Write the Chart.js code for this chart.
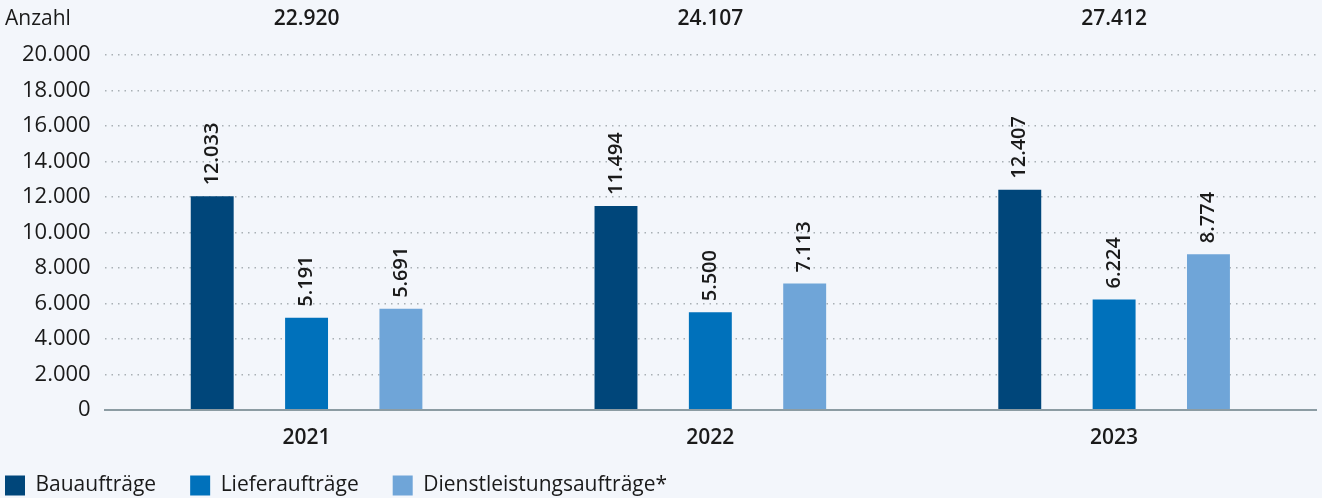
<!DOCTYPE html>
<html>
<head>
<meta charset="utf-8">
<script src="https://cdn.jsdelivr.net/npm/chart.js@4"></script>
<style>
  body { margin: 0; background: #f3f6fb; }
  #wrap { width: 1322px; height: 498px; position: relative; }
</style>
</head>
<body>
<div id="wrap"><canvas id="chart"></canvas></div>
<script>
'use strict';

// data
const years = ['2021', '2022', '2023'];
const bau = [12033, 11494, 12407];
const liefer = [5191, 5500, 6224];
const dienst = [5691, 7113, 8774];
const totals = [22920, 24107, 27412];
const seriesNames = ['Bauaufträge', 'Lieferaufträge', 'Dienstleistungsaufträge*'];
const yTicks = [0, 2000, 4000, 6000, 8000, 10000, 12000, 14000, 16000, 18000, 20000];

const colors = ['#00467a', '#0071bb', '#6fa5d8'];
const fontFamily = '"Open Sans", "Noto Sans", sans-serif';
const fs = 21;
const legendPad = 34;

function fmt(n) {
  return String(n).replace(/\B(?=(\d{3})+(?!\d))/g, '.');
}

// labels on the bars and totals on top
const labelPlugin = {
  id: 'labels',
  afterLayout(chart) {
    // pull the legend to the left edge and up a bit
    chart.legend.left = 5 - legendPad;
    chart.legend.top -= 18;
  },
  afterDatasetsDraw(chart) {
    const ctx = chart.ctx;
    ctx.save();
    ctx.fillStyle = '#1a1a1a';
    ctx.font = '600 20px ' + fontFamily;
    chart.data.datasets.forEach((ds, i) => {
      const meta = chart.getDatasetMeta(i);
      meta.data.forEach((bar, j) => {
        ctx.save();
        ctx.translate(bar.x, bar.y - 11);
        ctx.rotate(-Math.PI / 2);
        ctx.textAlign = 'left';
        ctx.textBaseline = 'middle';
        ctx.fillText(fmt(ds.data[j]), 0, 0);
        ctx.restore();
      });
    });
    // totals
    ctx.font = '600 ' + fs + 'px ' + fontFamily;
    const xScale = chart.scales.x;
    ctx.textAlign = 'center';
    ctx.textBaseline = 'middle';
    totals.forEach((t, j) => {
      ctx.fillText(fmt(t), xScale.getPixelForValue(j), 19);
    });
    // axis title
    ctx.font = fs + 'px ' + fontFamily;
    ctx.textAlign = 'left';
    ctx.fillText('Anzahl', 5, 19);
    ctx.restore();
  }
};

const ctx = document.getElementById('chart').getContext('2d');
const chart = new Chart(ctx, {
  type: 'bar',
  data: {
    labels: years,
    datasets: [
      { label: seriesNames[0], data: bau, backgroundColor: colors[0] },
      { label: seriesNames[1], data: liefer, backgroundColor: colors[1] },
      { label: seriesNames[2], data: dienst, backgroundColor: colors[2] }
    ]
  },
  options: {
    responsive: true,
    maintainAspectRatio: false,
    animation: false,
    layout: { padding: { top: 55, right: 6, left: 8, bottom: -26 } },
    datasets: {
      bar: { categoryPercentage: 0.701, barPercentage: 0.455 }
    },
    plugins: {
      legend: {
        position: 'bottom',
        align: 'start',
        labels: {
          boxWidth: 20,
          boxHeight: 20,
          padding: legendPad,
          color: '#1a1a1a',
          font: { size: fs, family: fontFamily }
        }
      },
      tooltip: { enabled: false }
    },
    scales: {
      x: {
        grid: { display: false },
        border: { color: '#8c9ca3', width: 2 },
        ticks: {
          color: '#1a1a1a',
          padding: 8,
          font: { size: fs, weight: '600', family: fontFamily }
        }
      },
      y: {
        min: 0,
        max: 20000,
        afterBuildTicks(scale) {
          scale.ticks = yTicks.map(v => ({ value: v }));
        },
        grid: { color: '#a9b0b5', lineWidth: 1.5, drawTicks: false },
        border: { display: false, dash: [1.5, 5] },
        ticks: {
          color: '#1a1a1a',
          padding: 14,
          font: { size: 22, family: fontFamily },
          callback: v => fmt(v)
        }
      }
    }
  },
  plugins: [labelPlugin]
});
</script>
</body>
</html>
